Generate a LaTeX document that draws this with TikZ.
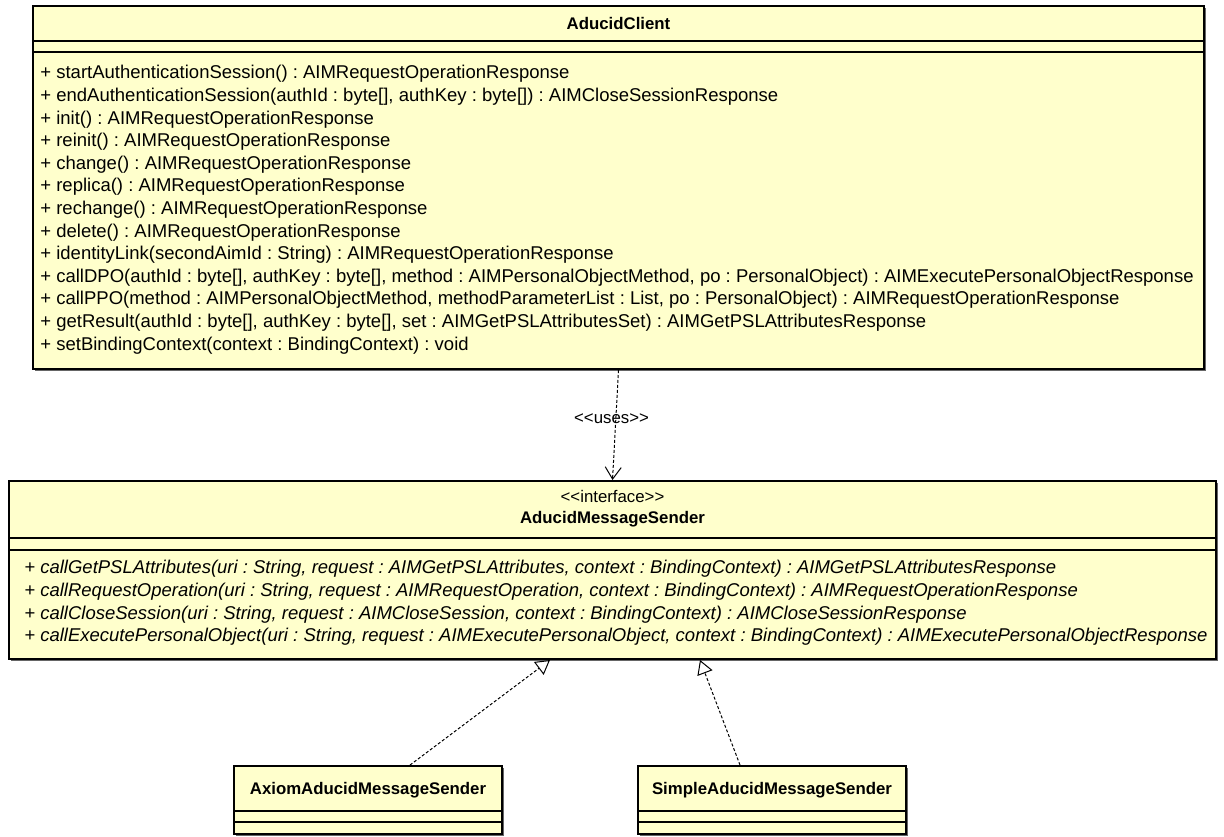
\documentclass[tikz,border=0pt]{standalone}
\usepackage{fontspec}
\setmainfont{Liberation Sans}
\usetikzlibrary{calc, shadows, arrows.meta}
\definecolor{cyellow}{HTML}{FFFFCC}

\begin{document}
\frenchspacing
\begin{tikzpicture}[x=0.5pt, y=-0.5pt,
    CLS/.style={rectangle, draw=black, line width=1pt, fill=cyellow, inner sep=0pt, anchor=north west, drop shadow={shadow xshift=1pt, shadow yshift=-1pt, fill=black!60, opacity=1}},
    TTL/.style={inner sep=0pt, font=\fontsize{8.4}{10.4}\selectfont\bfseries, align=center},
    OPS/.style={inner sep=0pt, anchor=north west, align=left, font=\fontsize{9.25}{11.3}\selectfont},
    SEP/.style={line width=0.6pt},
    DEP/.style={line width=0.5pt, dash pattern=on 1.5pt off 1pt},
    ]
    \useasboundingbox (0,0) rectangle (1224,836);
    % AducidClient
    \node[CLS, minimum width=585.5pt, minimum height=181.5pt] (client) at (32,5) {};
    \node[TTL] (clientname) at ($(client.north)+(0,18)$) {AducidClient};
    \draw[SEP] ($(client.north west)+(0,36)$) -- ($(client.north east)+(0,36)$);
    \draw[SEP] ($(client.north west)+(0,47)$) -- ($(client.north east)+(0,47)$);
    \node[OPS] (clientops) at ($(client.north west)+(8,60)$) {%
        + startAuthenticationSession() : AIMRequestOperationResponse\\
        + endAuthenticationSession(authId : byte[], authKey : byte[]) : AIMCloseSessionResponse\\
        + init() : AIMRequestOperationResponse\\
        + reinit() : AIMRequestOperationResponse\\
        + change() : AIMRequestOperationResponse\\
        + replica() : AIMRequestOperationResponse\\
        + rechange() : AIMRequestOperationResponse\\
        + delete() : AIMRequestOperationResponse\\
        + identityLink(secondAimId : String) : AIMRequestOperationResponse\\
        + callDPO(authId : byte[], authKey : byte[], method : AIMPersonalObjectMethod, po : PersonalObject) : AIMExecutePersonalObjectResponse\\
        + callPPO(method : AIMPersonalObjectMethod, methodParameterList : List, po : PersonalObject) : AIMRequestOperationResponse\\
        + getResult(authId : byte[], authKey : byte[], set : AIMGetPSLAttributesSet) : AIMGetPSLAttributesResponse\\
        + setBindingContext(context : BindingContext) : void};
    % AducidMessageSender
    \node[CLS, minimum width=603.5pt, minimum height=89pt] (sender) at (8,480) {};
    \node[TTL] (sendername) at ($(sender.north)+(0,29)$) {\mdseries <{}<interface>{}>\\AducidMessageSender};
    \draw[SEP] ($(sender.north west)+(0,58)$) -- ($(sender.north east)+(0,58)$);
    \draw[SEP] ($(sender.north west)+(0,70)$) -- ($(sender.north east)+(0,70)$);
    \node[OPS, font=\fontsize{9.25}{11.3}\selectfont\itshape] (senderops) at ($(sender.north west)+(16,80)$) {%
        + callGetPSLAttributes(uri : String, request : AIMGetPSLAttributes, context : BindingContext) : AIMGetPSLAttributesResponse\\
        + callRequestOperation(uri : String, request : AIMRequestOperation, context : BindingContext) : AIMRequestOperationResponse\\
        + callCloseSession(uri : String, request : AIMCloseSession, context : BindingContext) : AIMCloseSessionResponse\\
        + callExecutePersonalObject(uri : String, request : AIMExecutePersonalObject, context : BindingContext) : AIMExecutePersonalObjectResponse};
    % implementations
    \node[CLS, minimum width=134pt, minimum height=34pt] (axiom) at (233,765) {};
    \node[TTL] (axiomname) at ($(axiom.north)+(0,25)$) {AxiomAducidMessageSender};
    \draw[SEP] ($(axiom.north west)+(0,46)$) -- ($(axiom.north east)+(0,46)$);
    \draw[SEP] ($(axiom.north west)+(0,57)$) -- ($(axiom.north east)+(0,57)$);
    \node[CLS, minimum width=134pt, minimum height=34pt] (simple) at (637,765) {};
    \node[TTL] (simplename) at ($(simple.north)+(0,25)$) {SimpleAducidMessageSender};
    \draw[SEP] ($(simple.north west)+(0,46)$) -- ($(simple.north east)+(0,46)$);
    \draw[SEP] ($(simple.north west)+(0,57)$) -- ($(simple.north east)+(0,57)$);
    % connectors
    \draw[DEP, -{Straight Barb[length=6pt, width=8pt]}] (client.south) -- node[inner sep=1pt, xshift=-2pt, yshift=3pt, font=\fontsize{8.4}{10}\selectfont] (uses) {<{}<uses>{}>} (sender.north);
    \draw[DEP, -{Triangle[open, fill=white, length=7pt, width=8pt]}] ($(axiom.north west)+(177,0)$) -- ($(sender.south west)+(542,0)$);
    \draw[DEP, -{Triangle[open, fill=white, length=7pt, width=8pt]}] ($(simple.north west)+(103,0)$) -- ($(sender.south west)+(692,0)$);
\end{tikzpicture}
\end{document}
